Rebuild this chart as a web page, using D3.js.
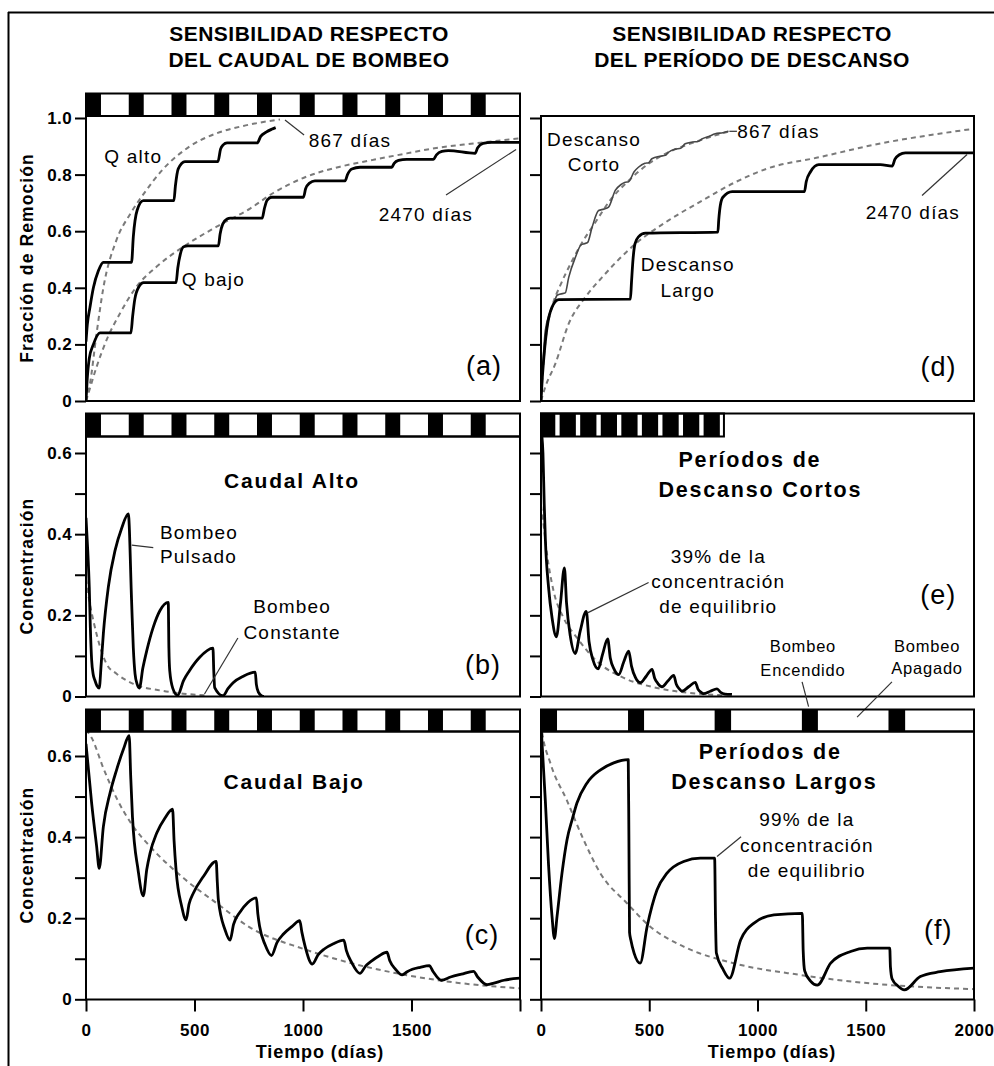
<!DOCTYPE html>
<html>
<head>
<meta charset="utf-8">
<script src="https://cdn.jsdelivr.net/npm/d3@7"></script>
<style>
  body { margin: 0; background: #fff; }
  svg { display: block; font-family: "Liberation Sans", Arial, sans-serif; }
</style>
</head>
<body>
<svg id="chart" width="994" height="1066"></svg>
<script>
// ---------------- axis ticks ----------------
const timeTicks = [0, 500, 1000, 1500, 2000];
const timeLabelsLeft = ["0", "500", "1000", "1500", ""];
const timeLabelsRight = ["0", "500", "1000", "1500", "2000"];
const removalTicks = [0, 0.2, 0.4, 0.6, 0.8, 1.0];
const removalLabels = ["0", "0.2", "0.4", "0.6", "0.8", "1.0"];
const concTicks = [0, 0.1, 0.2, 0.3, 0.4, 0.5, 0.6];
const concLabels = ["0", "", "0.2", "", "0.4", "", "0.6"];

// ---------------- pumping schedules: [on, off] in days ----------------
const pumpOnRegular = [[0, 69], [197, 266], [394, 463], [591, 660], [788, 857],
  [985, 1054], [1182, 1251], [1379, 1448], [1576, 1645], [1773, 1842]];
const pumpOnShortRest = [[0, 66], [86, 161], [181, 256], [276, 351], [371, 446],
  [466, 541], [561, 636], [656, 731], [751, 826]];
const shortRestScheduleEnd = 845;
const pumpOnLongRest = [[0, 74], [402, 476], [802, 878], [1205, 1279], [1605, 1682]];

// ---------------- (a) removal fraction vs pumping rate ----------------
const removalHighPulsed = [[0, 0.21], [6, 0.27], [18, 0.33], [34, 0.40], [57, 0.46], [80, 0.49],
  [210, 0.49], [218, 0.58], [236, 0.675], [264, 0.708],
  [405, 0.708], [412, 0.76], [425, 0.82], [456, 0.846],
  [608, 0.846], [620, 0.89], [632, 0.905], [650, 0.912],
  [789, 0.912], [805, 0.935], [830, 0.95], [855, 0.96], [874, 0.966]];
const removalHighConst = [[0, 0], [18, 0.06], [49, 0.24], [80, 0.40], [141, 0.57], [203, 0.66],
  [264, 0.73], [356, 0.82], [479, 0.90], [602, 0.946], [725, 0.972], [894, 0.995]];
const removalLowPulsed = [[0, 0], [5, 0.07], [15, 0.15], [34, 0.2], [64, 0.241],
  [207, 0.241], [215, 0.30], [225, 0.36], [245, 0.405], [265, 0.418],
  [415, 0.418], [423, 0.47], [435, 0.52], [450, 0.545], [470, 0.548],
  [610, 0.548], [618, 0.59], [630, 0.625], [650, 0.643], [665, 0.646],
  [812, 0.646], [822, 0.68], [835, 0.71], [856, 0.72],
  [1002, 0.72], [1012, 0.75], [1030, 0.77], [1055, 0.778],
  [1194, 0.778], [1205, 0.80], [1225, 0.82], [1263, 0.826],
  [1409, 0.826], [1420, 0.84], [1440, 0.85], [1478, 0.854],
  [1601, 0.854], [1615, 0.87], [1640, 0.882], [1670, 0.885],
  [1793, 0.875], [1805, 0.895], [1830, 0.91], [1870, 0.914], [2000, 0.914]];
const removalLowConst = [[0, 0], [11, 0.027], [49, 0.121], [95, 0.216], [157, 0.31], [233, 0.404],
  [326, 0.475], [448, 0.545], [602, 0.616], [756, 0.68], [863, 0.735], [1017, 0.793],
  [1171, 0.828], [1324, 0.852], [1478, 0.875], [1631, 0.896], [1785, 0.91], [2000, 0.928]];

// ---------------- (d) removal fraction vs rest period ----------------
const removalShortRest = [[0, 0], [8, 0.12], [20, 0.25], [40, 0.31], [60, 0.345], [74, 0.373],
  [90, 0.378], [112, 0.382], [128, 0.437], [159, 0.508], [185, 0.552], [200, 0.556], [215, 0.56],
  [236, 0.614], [266, 0.673], [290, 0.678], [312, 0.685], [343, 0.744], [370, 0.765],
  [389, 0.773], [405, 0.775], [430, 0.81], [450, 0.826], [480, 0.84], [497, 0.842],
  [512, 0.856], [550, 0.865], [575, 0.868], [589, 0.879], [620, 0.89], [645, 0.893],
  [666, 0.909], [700, 0.915], [725, 0.917], [743, 0.926], [775, 0.935], [805, 0.944],
  [840, 0.948], [866, 0.953]];
const removalShortRestConst = [[0, 0], [10, 0.12], [25, 0.24], [50, 0.33], [90, 0.41], [140, 0.49],
  [190, 0.56], [250, 0.63], [320, 0.71], [400, 0.775], [500, 0.84], [600, 0.883],
  [700, 0.912], [790, 0.935], [866, 0.952]];
const removalLongRest = [[0, 0], [5, 0.07], [12, 0.143], [28, 0.26], [51, 0.332], [82, 0.358],
  [413, 0.36], [418, 0.42], [425, 0.5], [434, 0.555], [450, 0.58], [483, 0.593],
  [817, 0.597], [821, 0.64], [828, 0.69], [840, 0.72], [883, 0.74],
  [1217, 0.74], [1225, 0.775], [1245, 0.81], [1283, 0.835],
  [1568, 0.835], [1622, 0.83], [1635, 0.855], [1655, 0.87], [1683, 0.877], [2000, 0.877]];
const removalLongRestConst = [[0, 0], [20, 0.05], [66, 0.131], [128, 0.273], [205, 0.367],
  [282, 0.437], [436, 0.555], [589, 0.638], [744, 0.708], [897, 0.773], [1040, 0.82],
  [1283, 0.861], [1568, 0.91], [1800, 0.94], [2000, 0.962]];

// ---------------- (b) concentration, high rate ----------------
const concHighPulsed = [[0, 0.44], [8, 0.36], [15, 0.27], [20, 0.17], [26, 0.09], [33, 0.055],
  [41, 0.04], [50, 0.027], [61, 0.021], [70, 0.08], [80, 0.155], [103, 0.27], [134, 0.36],
  [164, 0.414], [195, 0.45], [210, 0.237], [218, 0.12], [226, 0.056], [236, 0.03], [246, 0.021],
  [262, 0.07], [280, 0.113], [310, 0.171], [341, 0.212], [379, 0.232], [382, 0.12], [386, 0.063],
  [400, 0.02], [422, 0.003], [450, 0.04], [476, 0.063], [523, 0.096], [585, 0.119],
  [589, 0.06], [593, 0.022], [631, 0.002], [655, 0.02], [678, 0.034], [725, 0.05], [780, 0.06],
  [785, 0.03], [795, 0.01], [811, 0.001], [820, 0]];
const concHighConst = [[0, 0.29], [15, 0.237], [34, 0.187], [65, 0.122], [95, 0.08], [141, 0.056],
  [218, 0.031], [341, 0.015], [448, 0.007], [555, 0.003]];

// ---------------- (c) concentration, low rate ----------------
const concLowPulsed = [[0, 0.63], [26, 0.484], [49, 0.377], [61, 0.323], [80, 0.426], [111, 0.509],
  [141, 0.566], [172, 0.616], [199, 0.65], [206, 0.55], [214, 0.451], [240, 0.319], [264, 0.255],
  [280, 0.32], [295, 0.36], [326, 0.41], [364, 0.447], [399, 0.469], [406, 0.39], [415, 0.319],
  [441, 0.229], [461, 0.196], [475, 0.235], [495, 0.262], [541, 0.303], [600, 0.34], [605, 0.29],
  [610, 0.245], [641, 0.171], [664, 0.146], [680, 0.185], [710, 0.215], [745, 0.238], [785, 0.25],
  [792, 0.21], [800, 0.18], [825, 0.135], [855, 0.108], [880, 0.14], [910, 0.161], [950, 0.18],
  [985, 0.194], [995, 0.165], [1010, 0.13], [1043, 0.087], [1070, 0.11], [1098, 0.124],
  [1140, 0.137], [1188, 0.146], [1200, 0.12], [1225, 0.09], [1262, 0.064], [1290, 0.083],
  [1317, 0.095], [1350, 0.107], [1387, 0.116], [1400, 0.095], [1425, 0.075], [1457, 0.06],
  [1480, 0.068], [1504, 0.074], [1540, 0.079], [1582, 0.083], [1600, 0.068], [1637, 0.047],
  [1680, 0.055], [1730, 0.062], [1786, 0.069], [1805, 0.055], [1848, 0.036], [1880, 0.04],
  [1926, 0.047], [2000, 0.052]];
const concLowConst = [[0, 0.665], [26, 0.645], [80, 0.57], [141, 0.496], [218, 0.426], [295, 0.377],
  [449, 0.299], [602, 0.237], [753, 0.178], [1004, 0.124], [1238, 0.087], [1473, 0.06],
  [1708, 0.041], [2000, 0.027]];

// ---------------- (e) concentration, short rest ----------------
const concShortRest = [[0, 0.66], [9, 0.6], [15, 0.473], [20, 0.39], [35, 0.268], [51, 0.194],
  [71, 0.147], [90, 0.23], [108, 0.317], [118, 0.23], [135, 0.15], [158, 0.106], [181, 0.161],
  [209, 0.21], [222, 0.135], [240, 0.09], [264, 0.068], [285, 0.105], [308, 0.142], [320, 0.095],
  [338, 0.067], [359, 0.054], [382, 0.085], [405, 0.112], [418, 0.075], [436, 0.047], [459, 0.034],
  [486, 0.05], [513, 0.067], [525, 0.045], [540, 0.032], [559, 0.024], [586, 0.038], [613, 0.052],
  [625, 0.03], [640, 0.018], [651, 0.013], [682, 0.024], [713, 0.035], [725, 0.018], [740, 0.01],
  [751, 0.007], [782, 0.013], [813, 0.019], [830, 0.01], [850, 0.006], [882, 0.005]];
const concShortRestConst = [[0, 0.47], [9, 0.436], [28, 0.35], [58, 0.26], [104, 0.194], [166, 0.145],
  [258, 0.087], [382, 0.046], [536, 0.021], [721, 0.007], [845, 0.003]];

// ---------------- (f) concentration, long rest ----------------
const concLongRest = [[0, 0.68], [5, 0.63], [20, 0.49], [35, 0.33], [51, 0.204], [62, 0.15],
  [74, 0.204], [97, 0.311], [120, 0.393], [145, 0.445], [166, 0.484], [212, 0.533], [275, 0.566],
  [336, 0.583], [403, 0.591], [406, 0.4], [409, 0.165], [415, 0.146], [430, 0.114], [458, 0.089],
  [490, 0.179], [536, 0.27], [582, 0.311], [659, 0.34], [736, 0.348], [802, 0.348], [806, 0.2],
  [810, 0.114], [840, 0.075], [871, 0.052], [922, 0.146], [984, 0.188], [1076, 0.208], [1207, 0.212],
  [1211, 0.12], [1218, 0.07], [1245, 0.045], [1276, 0.035], [1338, 0.089], [1430, 0.118],
  [1507, 0.126], [1611, 0.126], [1614, 0.08], [1622, 0.05], [1650, 0.032], [1678, 0.023],
  [1752, 0.056], [1844, 0.068], [2000, 0.077]];
const concLongRestConst = [[0, 0.68], [5, 0.66], [43, 0.583], [120, 0.49], [197, 0.393], [274, 0.311],
  [397, 0.237], [505, 0.179], [659, 0.13], [890, 0.089], [1198, 0.06], [1505, 0.04], [2000, 0.025]];

// ---------------- text annotations (data coordinates) ----------------
const notesA = [
  { t: 218, v: 0.866, text: "Q alto" },
  { t: 587, v: 0.43, text: "Q bajo" },
  { t: 1217, v: 0.92, text: "867 días" },
  { t: 1566, v: 0.66, text: "2470 días" }];
const notesB = [
  { t: 341, v: 0.404, text: "Bombeo", anchor: "start" },
  { t: 341, v: 0.345, text: "Pulsado", anchor: "start" },
  { t: 950, v: 0.223, text: "Bombeo" },
  { t: 950, v: 0.157, text: "Constante" }];
const notesD = [
  { t: 245, v: 0.923, text: "Descanso" },
  { t: 245, v: 0.835, text: "Corto" },
  { t: 678, v: 0.482, text: "Descanso" },
  { t: 678, v: 0.39, text: "Largo" },
  { t: 1097, v: 0.953, text: "867 días" },
  { t: 1718, v: 0.667, text: "2470 días" }];
const notesE = [
  { t: 819, v: 0.346, text: "39% de la" },
  { t: 819, v: 0.283, text: "concentración" },
  { t: 819, v: 0.221, text: "de equilibrio" },
  { t: 1210, v: 0.123, text: "Bombeo", small: true },
  { t: 1210, v: 0.064, text: "Encendido", small: true },
  { t: 1783, v: 0.125, text: "Bombeo", small: true },
  { t: 1783, v: 0.069, text: "Apagado", small: true }];
const notesF = [
  { t: 1228, v: 0.444, text: "99% de la" },
  { t: 1228, v: 0.380, text: "concentración" },
  { t: 1228, v: 0.318, text: "de equilibrio" }];

const pointersA = [[917, 0.993, 1005, 0.94], [1659, 0.728, 1982, 0.889]];
const pointersB = [[211, 0.373, 310, 0.367], [546, 0.006, 700, 0.144]];
const pointersD = [[870, 0.953, 905, 0.953], [1760, 0.726, 1968, 0.871]];
const pointersE = [[215, 0.206, 497, 0.281], [1206, 0.036, 1236, -0.025], [1621, 0.036, 1460, -0.051]];
const pointersF = [[813, 0.352, 924, 0.401]];

// ---------------- layout ----------------
const FONT = '"Liberation Sans", Arial, sans-serif';
const svg = d3.select("#chart");

const xLeft = d3.scaleLinear().domain([0, 2000]).range([86, 520]);
const xRight = d3.scaleLinear().domain([0, 2000]).range([541, 974]);

const panels = [
  { key: "a", x: xLeft, top: 116, bottom: 401, y: d3.scaleLinear().domain([0, 1]).range([401, 118]),
    ticks: removalTicks, labels: removalLabels, showLabels: true,
    bar: { sched: pumpOnRegular, top: 93.5, bottom: 116, end: 2000 },
    yTitle: "Fracción de Remoción", yTitleY: 258,
    series: [
      { data: removalHighConst, kind: "dash" }, { data: removalLowConst, kind: "dash" },
      { data: removalHighPulsed, kind: "solid" }, { data: removalLowPulsed, kind: "solid" }],
    notes: notesA, pointers: pointersA, tag: { t: 1834, v: 0.124, text: "(a)" } },
  { key: "b", x: xLeft, top: 436.5, bottom: 696.5, y: d3.scaleLinear().domain([0, 0.6]).range([696.5, 453]),
    ticks: concTicks, labels: concLabels, showLabels: true,
    bar: { sched: pumpOnRegular, top: 413.5, bottom: 436.5, end: 2000 },
    yTitle: "Concentración", yTitleY: 566,
    series: [{ data: concHighConst, kind: "dash" }, { data: concHighPulsed, kind: "solid" }],
    title: [{ t: 949, v: 0.531, text: "Caudal Alto" }],
    notes: notesB, pointers: pointersB, tag: { t: 1829, v: 0.078, text: "(b)" } },
  { key: "c", x: xLeft, top: 731.5, bottom: 999.5, y: d3.scaleLinear().domain([0, 0.6]).range([999.3, 756]),
    ticks: concTicks, labels: concLabels, showLabels: true,
    bar: { sched: pumpOnRegular, top: 709.5, bottom: 731.5, end: 2000 },
    yTitle: "Concentración", yTitleY: 855, xLabels: timeLabelsLeft, xTitleX: 320,
    series: [{ data: concLowConst, kind: "dash" }, { data: concLowPulsed, kind: "solid" }],
    title: [{ t: 959, v: 0.537, text: "Caudal Bajo" }],
    notes: [], pointers: [], tag: { t: 1825, v: 0.159, text: "(c)" } },
  { key: "d", x: xRight, top: 116, bottom: 401, y: d3.scaleLinear().domain([0, 1]).range([401, 118]),
    ticks: removalTicks, labels: removalLabels, showLabels: false,
    series: [
      { data: removalShortRestConst, kind: "dash" }, { data: removalLongRestConst, kind: "dash" },
      { data: removalShortRest, kind: "thin" }, { data: removalLongRest, kind: "solid" }],
    notes: notesD, pointers: pointersD, tag: { t: 1836, v: 0.12, text: "(d)" } },
  { key: "e", x: xRight, top: 436.5, frameTop: 413.5, bottom: 696.5, y: d3.scaleLinear().domain([0, 0.6]).range([696.5, 453]),
    ticks: concTicks, labels: concLabels, showLabels: false,
    bar: { sched: pumpOnShortRest, top: 413.5, bottom: 436.5, end: shortRestScheduleEnd },
    series: [{ data: concShortRestConst, kind: "dash" }, { data: concShortRest, kind: "solid" }],
    title: [{ t: 965, v: 0.585, text: "Períodos de" }, { t: 1013, v: 0.511, text: "Descanso Cortos" }],
    titleSize: 21.5,
    notes: notesE, pointers: pointersE, tag: { t: 1835, v: 0.251, text: "(e)" } },
  { key: "f", x: xRight, top: 731.5, bottom: 999.5, y: d3.scaleLinear().domain([0, 0.6]).range([999.3, 756]),
    ticks: concTicks, labels: concLabels, showLabels: false,
    bar: { sched: pumpOnLongRest, top: 709.5, bottom: 731.5, end: 2000 },
    xLabels: timeLabelsRight, xTitleX: 772,
    series: [{ data: concLongRestConst, kind: "dash" }, { data: concLongRest, kind: "solid" }],
    title: [{ t: 1059, v: 0.611, text: "Períodos de" }, { t: 1078, v: 0.537, text: "Descanso Largos" }],
    titleSize: 21.5,
    notes: notesF, pointers: pointersF, tag: { t: 1835, v: 0.171, text: "(f)" } }
];

const lineStyles = {
  solid: { stroke: "#000", width: 2.8, dash: null },
  dash: { stroke: "#7a7a7a", width: 2, dash: "5,4" },
  thin: { stroke: "#474747", width: 1.6, dash: null }
};

// outer frame (top and left rules)
svg.append("line").attr("x1", 8).attr("x2", 994).attr("y1", 12.5).attr("y2", 12.5)
  .attr("stroke", "#000").attr("stroke-width", 2);
svg.append("line").attr("x1", 8.5).attr("x2", 8.5).attr("y1", 12).attr("y2", 1066)
  .attr("stroke", "#000").attr("stroke-width", 2);

// column headings
function heading(cx, lines) {
  lines.forEach((txt, i) => {
    svg.append("text").attr("x", cx).attr("y", [33.4, 60][i]).attr("dy", "0.35em")
      .attr("text-anchor", "middle").attr("font-family", FONT).attr("font-weight", "bold")
      .attr("font-size", 21).style("letter-spacing", "0.5px").text(txt);
  });
}
heading(309, ["SENSIBILIDAD RESPECTO", "DEL CAUDAL DE BOMBEO"]);
heading(752, ["SENSIBILIDAD RESPECTO", "DEL PERÍODO DE DESCANSO"]);

function addText(g, x, y, txt, o) {
  return g.append("text").attr("x", x).attr("y", y).attr("dy", "0.35em")
    .attr("text-anchor", o.anchor || "middle").attr("font-family", FONT)
    .attr("font-weight", o.weight || "normal").attr("font-size", o.size)
    .style("letter-spacing", (o.spacing || 0) + "px").attr("fill", "#000").text(txt);
}

panels.forEach(p => {
  const g = svg.append("g").attr("class", "panel-" + p.key);
  const x = p.x, y = p.y;
  const x0 = x.range()[0], x1 = x.range()[1];
  const frameTop = p.frameTop || p.top;

  // clip region for the curves
  const clipId = "clip-" + p.key;
  g.append("clipPath").attr("id", clipId).append("rect")
    .attr("x", x0).attr("y", p.top).attr("width", x1 - x0).attr("height", p.bottom - p.top);

  // white plot background
  g.append("rect").attr("x", x0).attr("y", frameTop).attr("width", x1 - x0)
    .attr("height", p.bottom - frameTop).attr("fill", "#fff");

  // curves
  const line = d3.line().x(d => x(d[0])).y(d => y(d[1])).curve(d3.curveMonotoneX);
  const curves = g.append("g").attr("clip-path", `url(#${clipId})`);
  p.series.forEach(s => {
    const st = lineStyles[s.kind];
    curves.append("path").datum(s.data).attr("d", line).attr("fill", "none")
      .attr("stroke", st.stroke).attr("stroke-width", st.width)
      .attr("stroke-dasharray", st.dash).attr("stroke-linejoin", "round")
      .attr("stroke-linecap", "butt");
  });

  // plot frame
  g.append("rect").attr("x", x0).attr("y", frameTop).attr("width", x1 - x0)
    .attr("height", p.bottom - frameTop).attr("fill", "none")
    .attr("stroke", "#000").attr("stroke-width", 2);

  // pumping schedule bar
  if (p.bar) {
    const b = p.bar;
    g.append("g").selectAll("rect").data(b.sched).join("rect")
      .attr("x", d => x(d[0])).attr("y", b.top)
      .attr("width", d => x(d[1]) - x(d[0])).attr("height", b.bottom - b.top)
      .attr("fill", "#000");
    g.append("rect").attr("x", x0).attr("y", b.top).attr("width", x(b.end) - x0)
      .attr("height", b.bottom - b.top).attr("fill", "none")
      .attr("stroke", "#000").attr("stroke-width", 2);
  }

  // y axis
  const yAxis = g.append("g").attr("transform", `translate(${x0},0)`)
    .call(d3.axisLeft(y).tickValues(p.ticks).tickSize(11).tickPadding(3)
      .tickFormat((d, i) => p.showLabels ? p.labels[i] : ""));
  yAxis.select(".domain").remove();
  yAxis.selectAll(".tick line").attr("stroke", "#000").attr("stroke-width", 2);
  yAxis.selectAll(".tick text").attr("font-family", FONT).attr("font-weight", "bold")
    .attr("font-size", 17).style("letter-spacing", "0.4px").attr("fill", "#000");

  if (p.yTitle) {
    g.append("text").attr("transform", `translate(27,${p.yTitleY}) rotate(-90)`)
      .attr("dy", "0.35em").attr("text-anchor", "middle").attr("font-family", FONT)
      .attr("font-weight", "bold").attr("font-size", 17.5).style("letter-spacing", "1.1px")
      .text(p.yTitle);
  }

  // x axis (bottom row only)
  if (p.xLabels) {
    const xAxis = g.append("g").attr("transform", `translate(0,${p.bottom})`)
      .call(d3.axisBottom(x).tickValues(timeTicks).tickSize(12).tickPadding(12)
        .tickFormat((d, i) => p.xLabels[i]));
    xAxis.select(".domain").remove();
    xAxis.selectAll(".tick line").attr("stroke", "#000").attr("stroke-width", 2);
    xAxis.selectAll(".tick text").attr("font-family", FONT).attr("font-weight", "bold")
      .attr("font-size", 17).style("letter-spacing", "0.5px").attr("fill", "#000");
    g.append("text").attr("x", p.xTitleX).attr("y", 1052).attr("dy", "0.35em")
      .attr("text-anchor", "middle").attr("font-family", FONT).attr("font-weight", "bold")
      .attr("font-size", 18).style("letter-spacing", "0.9px").text("Tiempo (días)");
  }

  // panel title
  (p.title || []).forEach(t => addText(g, x(t.t), y(t.v), t.text,
    { weight: "bold", size: p.titleSize || 21, spacing: 1.8 }));

  // leader lines
  p.pointers.forEach(q => {
    g.append("line").attr("x1", x(q[0])).attr("y1", y(q[1]))
      .attr("x2", x(q[2])).attr("y2", y(q[3]))
      .attr("stroke", "#333").attr("stroke-width", 1.2);
  });

  // annotations
  p.notes.forEach(n => addText(g, x(n.t), y(n.v), n.text,
    { anchor: n.anchor, size: n.small ? 16.5 : 19, spacing: n.small ? 0.8 : 1.2 }));

  // panel tag
  addText(g, x(p.tag.t), y(p.tag.v), p.tag.text, { size: 27, spacing: 1 });
});
</script>
</body>
</html>
